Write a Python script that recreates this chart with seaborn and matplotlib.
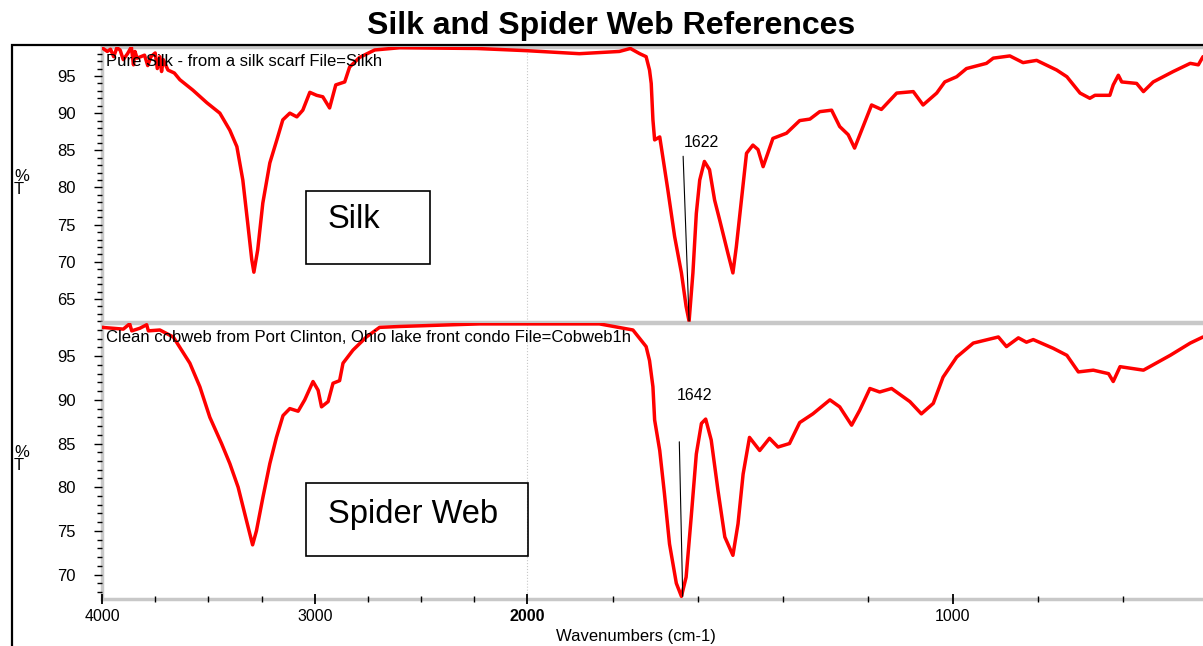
import numpy as np
import seaborn as sns
import matplotlib.pyplot as plt
from matplotlib.patches import Rectangle
from matplotlib.ticker import FixedLocator, NullFormatter

# silk spectrum (wavenumber, %T)
silk_wn = [4000, 3975, 3960, 3945, 3930, 3915, 3900, 3880, 3862, 3852, 3845, 3835, 3800,
           3785, 3770, 3750, 3740, 3728, 3720, 3712, 3690, 3660, 3634, 3573, 3507, 3446,
           3399, 3366, 3338, 3315, 3296, 3286, 3268, 3244, 3211, 3178, 3150, 3117, 3084,
           3056, 3023, 2991, 2962, 2930, 2901, 2859, 2836, 2789, 2718, 2601, 2239, 2000,
           1878, 1784, 1758, 1736, 1721, 1713, 1709, 1705, 1701, 1689, 1682, 1670, 1654,
           1638, 1627, 1620, 1611, 1603, 1595, 1584, 1572, 1560, 1548, 1529, 1517, 1509,
           1497, 1485, 1470, 1458, 1446, 1435, 1423, 1391, 1360, 1336, 1313, 1285, 1266,
           1246, 1231, 1211, 1191, 1168, 1132, 1093, 1070, 1038, 1019, 991, 968, 921, 905,
           866, 835, 803, 756, 732, 701, 678, 666, 631, 623, 611, 603, 568, 552, 529, 482,
           442, 423, 412]
silk_t = [98.8, 98.3, 98.6, 97.6, 98.8, 98.5, 97.2, 98.0, 98.9, 96.5, 98.3, 97.4, 97.8,
          96.4, 97.6, 98.1, 96.0, 97.6, 95.6, 97.2, 95.8, 95.4, 94.5, 93.1, 91.4, 90.0,
          87.7, 85.5, 81.0, 75.2, 70.3, 68.6, 71.6, 77.9, 83.3, 86.4, 89.1, 90.0, 89.5,
          90.4, 92.8, 92.4, 92.2, 90.7, 93.8, 94.2, 96.2, 97.5, 98.5, 98.8, 98.7, 98.4,
          98.0, 98.3, 98.7, 98.0, 97.6, 95.8, 94.0, 89.1, 86.4, 86.8, 84.2, 79.7, 73.4,
          68.5, 64.0, 62.0, 68.5, 76.5, 81.0, 83.5, 82.4, 78.3, 75.6, 71.2, 68.5, 72.0,
          78.3, 84.6, 85.7, 85.1, 82.8, 84.6, 86.6, 87.3, 89.0, 89.2, 90.2, 90.4, 88.2,
          87.1, 85.3, 88.2, 91.1, 90.5, 92.7, 92.9, 91.1, 92.7, 94.2, 94.9, 96.0, 96.7,
          97.4, 97.7, 96.8, 97.1, 95.8, 94.9, 92.7, 92.0, 92.4, 92.4, 93.8, 95.1, 94.2,
          94.0, 92.9, 94.2, 95.6, 96.7, 96.5, 97.6]

# spider web spectrum
web_wn = [4000, 3900, 3870, 3860, 3822, 3790, 3782, 3728, 3665, 3626, 3587, 3540, 3493,
          3438, 3399, 3360, 3321, 3292, 3274, 3243, 3211, 3180, 3149, 3117, 3078, 3047,
          3008, 2984, 2968, 2937, 2914, 2883, 2867, 2820, 2757, 2695, 2601, 2225, 1925,
          1831, 1752, 1721, 1713, 1705, 1701, 1689, 1678, 1666, 1650, 1638, 1627, 1615,
          1603, 1591, 1581, 1568, 1552, 1536, 1517, 1505, 1493, 1478, 1454, 1431, 1411,
          1384, 1360, 1329, 1289, 1266, 1238, 1219, 1195, 1172, 1144, 1101, 1074, 1046,
          1023, 991, 952, 893, 874, 846, 827, 811, 764, 732, 705, 670, 634, 623, 607, 552,
          489, 442, 412]
web_t = [98.3, 98.1, 98.7, 97.9, 98.2, 98.6, 97.9, 98.0, 97.2, 95.7, 94.2, 91.5, 88.0,
         85.0, 82.7, 80.0, 76.2, 73.4, 75.0, 78.9, 82.7, 85.7, 88.2, 89.0, 88.7, 90.0,
         92.1, 91.1, 89.2, 89.8, 91.9, 92.2, 94.2, 95.7, 97.2, 98.3, 98.4, 98.7, 98.7,
         98.7, 98.0, 96.1, 94.5, 91.5, 87.7, 84.2, 79.3, 73.5, 69.0, 67.5, 69.7, 76.6,
         83.8, 87.3, 87.8, 85.4, 79.6, 74.3, 72.2, 75.8, 81.5, 85.7, 84.2, 85.6, 84.6,
         85.0, 87.4, 88.4, 90.0, 89.2, 87.1, 88.8, 91.3, 90.9, 91.3, 89.8, 88.4, 89.6,
         92.6, 94.9, 96.5, 97.2, 96.1, 97.1, 96.6, 96.9, 95.9, 95.1, 93.2, 93.4, 93.0,
         92.1, 93.8, 93.4, 95.1, 96.5, 97.2]

panel_notes = ["Pure Silk - from a silk scarf File=Silkh",
               "Clean cobweb from Port Clinton, Ohio lake front condo File=Cobweb1h"]
panel_names = ["Silk", "Spider Web"]
peak_labels = ["1622", "1642"]
x_major = [4000, 3000, 2000, 1000]
x_minor = [3750, 3500, 3250, 2750, 2500, 2250, 1800, 1600, 1400, 1200, 800, 600]

sns.set_style("ticks")
plt.rcParams['font.family'] = ['Liberation Sans', 'DejaVu Sans']
plt.rcParams['text.color'] = 'black'
plt.rcParams['xtick.labelcolor'] = 'black'
plt.rcParams['ytick.labelcolor'] = 'black'

W, H = 1203, 646
fig = plt.figure(figsize=(W / 100, H / 100), dpi=100)


def fx(px):
    return px / W


def fy(py):
    return 1 - py / H


# wavenumber axis: 2x expanded below 2000 cm-1
def fwd(x):
    x = np.asarray(x, dtype=float)
    return np.where(x <= 2000, x, 2000 + (x - 2000) / 2)


def inv(u):
    u = np.asarray(u, dtype=float)
    return np.where(u <= 2000, u, 2000 + (u - 2000) * 2)


ax1 = fig.add_axes([fx(102), fy(322), 1 - fx(102), fy(47) - fy(322)])
ax2 = fig.add_axes([fx(102), fy(599), 1 - fx(102), fy(323) - fy(599)])

sns.lineplot(x=silk_wn, y=silk_t, ax=ax1, color='#ff0000', lw=2.5, sort=False, estimator=None)
sns.lineplot(x=web_wn, y=web_t, ax=ax2, color='#ff0000', lw=2.5, sort=False, estimator=None)

ylims = [(61.9, 98.9), (67.2, 98.8)]
yticks = [np.arange(65, 96, 5), np.arange(70, 96, 5)]
for ax, yl, yt in zip([ax1, ax2], ylims, yticks):
    ax.set_xscale('function', functions=(fwd, inv))
    ax.set_xlim(4000, 412)
    ax.set_ylim(*yl)
    ax.set_yticks(yt)
    ax.yaxis.set_minor_locator(FixedLocator(np.arange(int(yl[0]) + 1, 99, 1)))
    ax.tick_params(axis='y', which='major', direction='out', length=6, width=1,
                   color='black', pad=13, labelsize=12)
    ax.tick_params(axis='y', which='minor', direction='out', length=3.5, width=1,
                   color='black', left=True)
    ax.axvline(2000, color='#c8c8c8', ls=':', lw=0.8, zorder=0)
    for s in ['top', 'bottom', 'left']:
        ax.spines[s].set_color('#c8c8c8')
        ax.spines[s].set_linewidth(2.5)
        ax.spines[s].set_zorder(0.5)
    ax.spines['right'].set_visible(False)
    ax.set_xlabel('')
    ax.set_ylabel('')

ax1.set_xticks([])
ax1.xaxis.set_minor_locator(FixedLocator([]))
ax2.set_xticks(x_major)
ax2.set_xticklabels([str(v) for v in x_major])
ax2.xaxis.set_minor_locator(FixedLocator(x_minor))
ax2.xaxis.set_minor_formatter(NullFormatter())
ax2.tick_params(axis='x', which='major', direction='inout', length=6.5, width=1.3,
                color='black', pad=4, labelsize=11.5)
ax2.tick_params(axis='x', which='minor', direction='inout', length=5, width=1,
                color='black', bottom=True)
for lab in ax2.get_xticklabels():
    if lab.get_text() == '2000':
        lab.set_fontweight('bold')

# panel notes and names
for ax, note in zip([ax1, ax2], panel_notes):
    ax.text(0.004, 0.975, note, transform=ax.transAxes, fontsize=12, va='top', ha='left')

boxes = [(306, 191, 430, 264, 220), (306, 483, 528, 556, 514)]
for (x0, y0, x1, y1, yc), name in zip(boxes, panel_names):
    fig.patches.append(Rectangle((fx(x0), fy(y1)), fx(x1) - fx(x0), fy(y0) - fy(y1),
                                 transform=fig.transFigure, fill=False, ec='black', lw=1.2))
    fig.text(fx(328), fy(yc), name, fontsize=23.5, va='center', ha='left')

# peak markers
ax1.plot([1634, 1620], [84.2, 62.0], color='black', lw=0.8)
ax1.text(1632, 85.0, peak_labels[0], fontsize=11.5, ha='left', va='bottom')
ax2.plot([1643, 1635], [85.2, 67.5], color='black', lw=0.8)
ax2.text(1650, 89.6, peak_labels[1], fontsize=11.5, ha='left', va='bottom')

fig.text(fx(14), fy(183), "%\nT", fontsize=12, ha='left', va='center', linespacing=0.85)
fig.text(fx(14), fy(459), "%\nT", fontsize=12, ha='left', va='center', linespacing=0.85)
fig.text(fx(636), fy(637), "Wavenumbers (cm-1)", fontsize=12, ha='center', va='center')
fig.text(fx(611), fy(26), "Silk and Spider Web References", fontsize=23, fontweight='bold',
         ha='center', va='center')

# outer frame
fig.patches.append(Rectangle((fx(12), -0.1), 1.1, fy(45) + 0.1, transform=fig.transFigure,
                             fill=False, ec='black', lw=1.6))

fig.savefig('out.png', dpi=100)
